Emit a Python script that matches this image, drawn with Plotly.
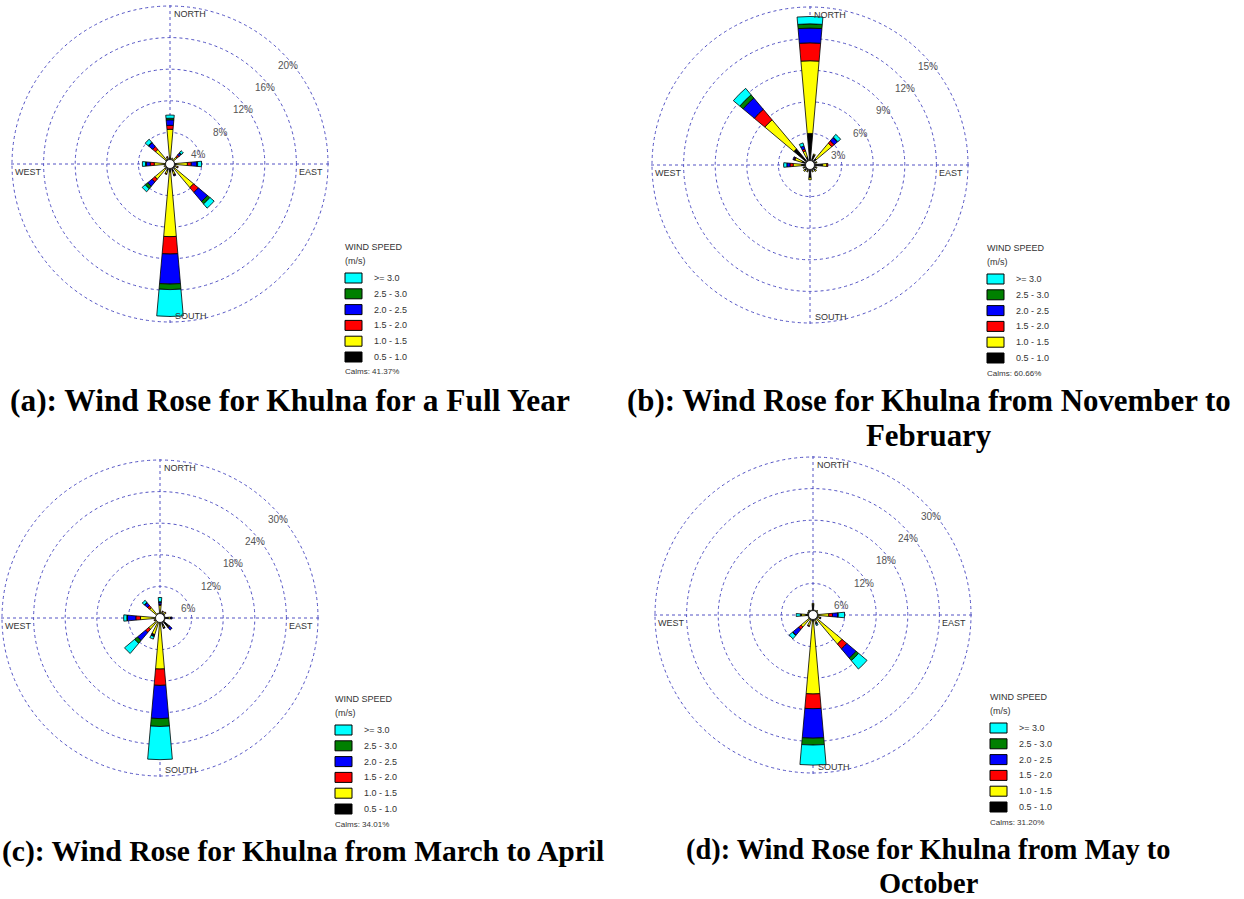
import math
import plotly.graph_objects as go

FIG_W, FIG_H = 1244, 899

# Compass bearings of the 16 sectors: N, NNE, NE, ..., NNW
DIRECTIONS = [0, 22.5, 45, 67.5, 90, 112.5, 135, 157.5,
              180, 202.5, 225, 247.5, 270, 292.5, 315, 337.5]

SPEED_CLASSES = ["0.5 - 1.0", "1.0 - 1.5", "1.5 - 2.0", "2.0 - 2.5", "2.5 - 3.0", ">= 3.0"]
CLASS_COLORS = ["#000000", "#ffff00", "#ff0000", "#0000ff", "#008000", "#00ffff"]

# ---- Full year: frequency (%) per direction for each speed class ----
YEAR_05_10 = [0.8, 0.6, 0.6, 0.5, 0.8, 0.7, 0.8, 1.0, 1.0, 0.9, 0.8, 0.6, 0.7, 0.5, 0.7, 0.7]
YEAR_10_15 = [3.6, 0.2, 0.6, 0.1, 1.4, 0.3, 3.1, 0.4, 8.2, 0.4, 1.7, 0.2, 1.3, 0.1, 1.7, 0.2]
YEAR_15_20 = [0.5, 0.0, 0.3, 0.0, 0.5, 0.1, 0.8, 0.1, 2.2, 0.1, 0.5, 0.0, 0.5, 0.0, 0.5, 0.1]
YEAR_20_25 = [0.7, 0.0, 0.3, 0.0, 0.7, 0.0, 1.5, 0.1, 3.8, 0.0, 0.7, 0.0, 0.5, 0.0, 0.6, 0.0]
YEAR_25_30 = [0.2, 0.0, 0.1, 0.0, 0.1, 0.0, 0.4, 0.0, 0.7, 0.0, 0.4, 0.0, 0.1, 0.0, 0.1, 0.0]
YEAR_30_UP = [0.4, 0.0, 0.3, 0.0, 0.5, 0.0, 0.7, 0.0, 3.4, 0.0, 0.5, 0.0, 0.4, 0.0, 0.5, 0.0]
YEAR_CALMS = "41.37%"

# ---- November to February ----
WINTER_05_10 = [3.0, 1.0, 0.8, 0.6, 1.2, 0.6, 0.7, 0.6, 1.2, 0.6, 0.7, 0.6, 0.8, 0.8, 2.0, 0.8]
WINTER_10_15 = [6.9, 0.1, 1.9, 0.1, 0.4, 0.1, 0.1, 0.1, 0.2, 0.1, 0.1, 0.1, 0.8, 0.7, 3.6, 0.6]
WINTER_15_20 = [1.7, 0.0, 0.3, 0.0, 0.1, 0.0, 0.0, 0.0, 0.0, 0.0, 0.0, 0.0, 0.3, 0.1, 1.3, 0.2]
WINTER_20_25 = [1.4, 0.0, 0.4, 0.0, 0.0, 0.0, 0.0, 0.0, 0.0, 0.0, 0.0, 0.0, 0.3, 0.1, 1.4, 0.3]
WINTER_25_30 = [0.4, 0.0, 0.05, 0.0, 0.0, 0.0, 0.0, 0.0, 0.0, 0.0, 0.0, 0.0, 0.0, 0.0, 0.4, 0.0]
WINTER_30_UP = [0.7, 0.0, 0.35, 0.0, 0.0, 0.0, 0.0, 0.0, 0.0, 0.0, 0.0, 0.0, 0.3, 0.0, 0.8, 0.3]
WINTER_CALMS = "60.66%"

# ---- March to April ----
SPRING_05_10 = [0.9, 1.0, 1.1, 0.8, 1.6, 0.8, 2.2, 1.6, 1.0, 0.8, 0.8, 0.8, 0.8, 0.6, 0.8, 0.8]
SPRING_10_15 = [1.5, 0.3, 0.3, 0.2, 0.4, 0.2, 0.1, 0.3, 8.7, 2.5, 2.0, 0.3, 2.9, 0.2, 1.8, 0.2]
SPRING_15_20 = [0.2, 0.1, 0.1, 0.0, 0.1, 0.0, 0.1, 0.1, 3.1, 0.1, 0.8, 0.1, 0.9, 0.0, 0.5, 0.0]
SPRING_20_25 = [0.4, 0.0, 0.0, 0.0, 0.2, 0.0, 0.6, 0.1, 6.3, 0.2, 2.0, 0.0, 1.6, 0.0, 0.7, 0.0]
SPRING_25_30 = [0.1, 0.0, 0.0, 0.0, 0.0, 0.0, 0.0, 0.0, 1.5, 0.1, 0.7, 0.0, 0.1, 0.0, 0.1, 0.0]
SPRING_30_UP = [0.8, 0.0, 0.0, 0.0, 0.0, 0.0, 0.0, 0.0, 6.3, 0.5, 2.5, 0.0, 0.6, 0.0, 0.5, 0.0]
SPRING_CALMS = "34.01%"

# ---- May to October ----
MONSOON_05_10 = [2.0, 0.9, 1.0, 0.8, 1.0, 1.0, 1.0, 1.0, 1.2, 1.0, 1.0, 0.8, 1.4, 1.0, 1.1, 0.9]
MONSOON_10_15 = [0.2, 0.1, 0.2, 0.2, 2.0, 0.4, 6.2, 0.6, 13.8, 1.2, 2.0, 0.2, 0.8, 0.1, 0.1, 0.1]
MONSOON_15_20 = [0.0, 0.0, 0.0, 0.0, 0.7, 0.1, 1.2, 0.1, 2.8, 0.1, 0.6, 0.0, 0.1, 0.0, 0.0, 0.0]
MONSOON_20_25 = [0.0, 0.0, 0.0, 0.0, 1.0, 0.1, 2.3, 0.1, 5.6, 0.0, 1.4, 0.0, 0.1, 0.0, 0.0, 0.0]
MONSOON_25_30 = [0.0, 0.0, 0.0, 0.0, 0.1, 0.0, 0.6, 0.0, 1.3, 0.0, 0.1, 0.0, 0.0, 0.0, 0.0, 0.0]
MONSOON_30_UP = [0.0, 0.0, 0.0, 0.0, 1.2, 0.0, 2.1, 0.3, 3.8, 0.0, 0.8, 0.0, 0.8, 0.0, 0.0, 0.0]
MONSOON_CALMS = "31.20%"

RING_TICKS_A = [4, 8, 12, 16, 20]
RING_TICKS_B = [3, 6, 9, 12, 15]
RING_TICKS_CD = [6, 12, 18, 24, 30]

CAPTION_A = ["(a): Wind Rose for Khulna for a Full Year"]
CAPTION_B = ["(b): Wind Rose for Khulna from November to", "February"]
CAPTION_C = ["(c): Wind Rose for Khulna from March to April"]
CAPTION_D = ["(d): Wind Rose for Khulna from May to", "October"]

# Layout of each panel: rose centre (px), legend anchor (px), caption centre/size
PANELS = [
    dict(name="polar", series=[YEAR_05_10, YEAR_10_15, YEAR_15_20, YEAR_20_25, YEAR_25_30, YEAR_30_UP],
         ticks=RING_TICKS_A, calms=YEAR_CALMS, center=(170, 164), leg=(345, 247),
         caption=CAPTION_A, cap_xy=(290, 400), cap_size=31.4, cap_gap=35),
    dict(name="polar2", series=[WINTER_05_10, WINTER_10_15, WINTER_15_20, WINTER_20_25, WINTER_25_30, WINTER_30_UP],
         ticks=RING_TICKS_B, calms=WINTER_CALMS, center=(810, 165), leg=(987, 248),
         caption=CAPTION_B, cap_xy=(929, 400), cap_size=30.9, cap_gap=35),
    dict(name="polar3", series=[SPRING_05_10, SPRING_10_15, SPRING_15_20, SPRING_20_25, SPRING_25_30, SPRING_30_UP],
         ticks=RING_TICKS_CD, calms=SPRING_CALMS, center=(160, 618), leg=(335, 699),
         caption=CAPTION_C, cap_xy=(303, 851), cap_size=29.6, cap_gap=35),
    dict(name="polar4", series=[MONSOON_05_10, MONSOON_10_15, MONSOON_15_20, MONSOON_20_25, MONSOON_25_30, MONSOON_30_UP],
         ticks=RING_TICKS_CD, calms=MONSOON_CALMS, center=(813, 615), leg=(990, 697),
         caption=CAPTION_D, cap_xy=(928, 850), cap_size=28.4, cap_gap=33),
]

RADIUS = 158          # outer ring radius in px
PAD = 1.01            # radial range head-room so the outer ring is drawn
RING_LABEL_ANGLE = 45  # ring labels sit along the NE diagonal, just below it
GRID_COLOR = "#5252c4"
LABEL_FONT = dict(family="Liberation Sans, Arial", size=9, color="#333333")
RING_FONT = dict(family="Liberation Sans, Arial", size=10, color="#555555")


def px_x(x):
    return min(max(x / FIG_W, 0.0), 1.0)


def px_y(y):
    return min(max(1 - y / FIG_H, 0.0), 1.0)


fig = go.Figure()
annotations = []
shapes = []

for p in PANELS:
    cx, cy = p["center"]
    sub = p["name"]
    for label, color, values in zip(SPEED_CLASSES, CLASS_COLORS, p["series"]):
        fig.add_trace(go.Barpolar(
            r=[v if v > 0 else None for v in values],
            theta=DIRECTIONS,
            width=10,
            name=label,
            marker=dict(color=color, line=dict(color="#000000", width=0.8)),
            subplot=sub,
            showlegend=False,
            hoverinfo="skip",
        ))
    # calm circle at the centre
    fig.add_trace(go.Scatterpolar(
        r=[0], theta=[0], mode="markers", subplot=sub, showlegend=False,
        marker=dict(size=9, color="white", line=dict(color="#222222", width=1)),
        hoverinfo="skip",
    ))

    rmax = p["ticks"][-1]
    dom_r = RADIUS * PAD
    fig.update_layout(**{sub: dict(
        domain=dict(x=[px_x(cx - dom_r), px_x(cx + dom_r)],
                    y=[px_y(cy + dom_r), px_y(cy - dom_r)]),
        bgcolor="white",
        hole=0,
        radialaxis=dict(
            range=[0, rmax * PAD], tickvals=p["ticks"], showticklabels=False,
            showline=False, ticks="",
            showgrid=True, gridcolor=GRID_COLOR, griddash="dot", gridwidth=1,
            layer="below traces",
        ),
        angularaxis=dict(
            rotation=90, direction="clockwise", dtick=90, showline=False,
            showticklabels=False, ticks="", showgrid=True,
            gridcolor=GRID_COLOR, griddash="dot", gridwidth=1,
            layer="below traces",
        ),
    )})

    # ring percentage labels, placed just below the NE diagonal of each ring
    ang = math.radians(RING_LABEL_ANGLE)
    for t in p["ticks"]:
        rr = RADIUS * t / rmax
        lxp = cx + rr * math.cos(ang) + 6
        lyp = cy - rr * math.sin(ang) + 13
        annotations.append(dict(x=px_x(lxp), y=px_y(lyp), xref="paper", yref="paper",
                                text=f"{t}%", showarrow=False, xanchor="center",
                                yanchor="middle", font=RING_FONT))

    # compass labels
    for text, x, y, xa in [
        ("NORTH", cx + 2, cy - RADIUS + 8, "left"),
        ("SOUTH", cx + 3, cy + RADIUS - 6, "left"),
        ("WEST", cx - RADIUS + 1, cy + 8, "left"),
        ("EAST", cx + RADIUS - 3, cy + 8, "right"),
    ]:
        annotations.append(dict(x=px_x(x), y=px_y(y), xref="paper", yref="paper",
                                text=text, showarrow=False, xanchor=xa, yanchor="middle",
                                font=LABEL_FONT))

    # speed-class key
    lx, ly = p["leg"]
    annotations.append(dict(x=px_x(lx - 2), y=px_y(ly), xref="paper", yref="paper",
                            text="WIND SPEED", showarrow=False, xanchor="left", yanchor="middle",
                            font=LABEL_FONT))
    annotations.append(dict(x=px_x(lx - 2), y=px_y(ly + 14), xref="paper", yref="paper",
                            text="(m/s)", showarrow=False, xanchor="left", yanchor="middle",
                            font=LABEL_FONT))
    for i, (label, color) in enumerate(zip(reversed(SPEED_CLASSES), reversed(CLASS_COLORS))):
        yy = ly + 31 + i * 15.8
        shapes.append(dict(type="rect", xref="paper", yref="paper",
                           x0=px_x(lx), x1=px_x(lx + 17), y0=px_y(yy - 5), y1=px_y(yy + 5),
                           fillcolor=color, line=dict(color="#000000", width=1)))
        annotations.append(dict(x=px_x(lx + 27), y=px_y(yy), xref="paper", yref="paper",
                                text=label, showarrow=False, xanchor="left", yanchor="middle",
                                font=LABEL_FONT))
    annotations.append(dict(x=px_x(lx - 2), y=px_y(ly + 125), xref="paper", yref="paper",
                            text="Calms: " + p["calms"], showarrow=False, xanchor="left",
                            yanchor="middle",
                            font=dict(family="Liberation Sans, Arial", size=8, color="#333333")))

    # caption, one annotation per line
    capx, capy = p["cap_xy"]
    for k, line in enumerate(p["caption"]):
        annotations.append(dict(x=px_x(capx), y=px_y(capy + k * p["cap_gap"]),
                                xref="paper", yref="paper",
                                text=line, showarrow=False, xanchor="center", yanchor="middle",
                                font=dict(family="Liberation Serif, Times New Roman",
                                          size=p["cap_size"], color="#000000", weight="bold")))

fig.update_layout(
    width=FIG_W, height=FIG_H,
    margin=dict(l=0, r=0, t=0, b=0),
    paper_bgcolor="white",
    plot_bgcolor="white",
    annotations=annotations,
    shapes=shapes,
)

fig.write_html("out.html")
